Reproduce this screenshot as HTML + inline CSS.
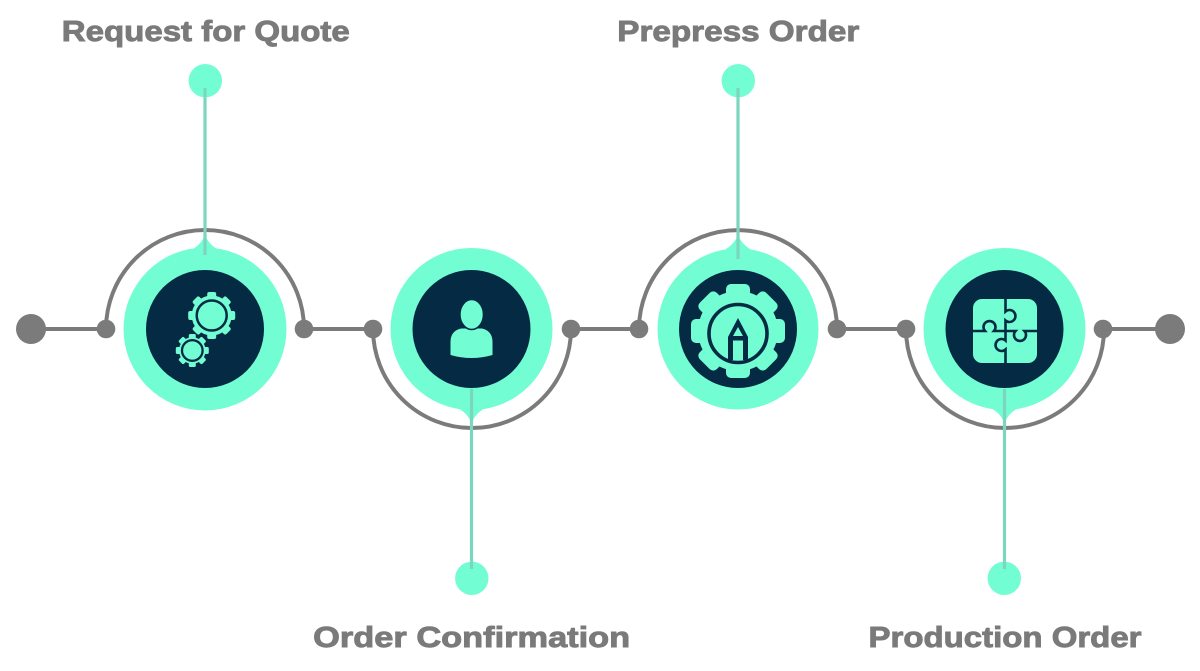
<!DOCTYPE html>
<html>
<head>
<meta charset="utf-8">
<style>
  html,body{margin:0;padding:0;background:#ffffff;}
  svg{display:block;}
  .lbl{font-family:"Liberation Sans",Arial,sans-serif;font-weight:bold;font-size:29px;fill:#7a7a7a;stroke:#7a7a7a;stroke-width:0.9;}
</style>
</head>
<body>
<svg width="1200" height="671" viewBox="0 0 1200 671" xmlns="http://www.w3.org/2000/svg">
  <!-- labels -->
  <text class="lbl" x="205.8" y="41" text-anchor="middle" textLength="288" lengthAdjust="spacingAndGlyphs">Request for Quote</text>
  <text class="lbl" x="738.3" y="41" text-anchor="middle" textLength="242" lengthAdjust="spacingAndGlyphs">Prepress Order</text>
  <text class="lbl" x="471.7" y="647" text-anchor="middle" textLength="317" lengthAdjust="spacingAndGlyphs">Order Confirmation</text>
  <text class="lbl" x="1005" y="647" text-anchor="middle" textLength="273" lengthAdjust="spacingAndGlyphs">Production Order</text>

  <!-- gray connectors -->
  <g stroke="#7b7b7b" stroke-width="4" fill="none">
    <line x1="31" y1="329" x2="106" y2="329"/>
    <line x1="304" y1="329" x2="373" y2="329"/>
    <line x1="571" y1="329" x2="639" y2="329"/>
    <line x1="837" y1="329" x2="906" y2="329"/>
    <line x1="1103" y1="329" x2="1170" y2="329"/>
    <path d="M106,329 A99,99 0 0 1 304,329"/>
    <path d="M373,329 A99,99 0 0 0 571,329"/>
    <path d="M639,329 A99,99 0 0 1 837,329"/>
    <path d="M906,329 A99,99 0 0 0 1104,329"/>
  </g>
  <g fill="#7b7b7b">
    <circle cx="31" cy="329" r="15"/>
    <circle cx="1170" cy="329" r="15"/>
    <circle cx="106" cy="329" r="9.3"/>
    <circle cx="304" cy="329" r="9.3"/>
    <circle cx="373" cy="329" r="9.3"/>
    <circle cx="571" cy="329" r="9.3"/>
    <circle cx="639" cy="329" r="9.3"/>
    <circle cx="837" cy="329" r="9.3"/>
    <circle cx="906" cy="329" r="9.3"/>
    <circle cx="1103" cy="329" r="9.3"/>
  </g>

  <!-- mint discs with teardrop points -->
  <g fill="#73fdd3">
    <circle cx="205" cy="329" r="81.5"/>
    <path d="M187,252 Q200,247 205,235 Q210,247 223,252 Z"/>
    <circle cx="471.5" cy="329" r="81"/>
    <path d="M453.5,406 Q466.5,411 471.5,423 Q476.5,411 489.5,406 Z"/>
    <circle cx="738" cy="329" r="80.5"/>
    <path d="M720,252 Q733,247 738,235 Q743,247 756,252 Z"/>
    <circle cx="1004.5" cy="329" r="81"/>
    <path d="M986.5,406 Q999.5,411 1004.5,423 Q1009.5,411 1022.5,406 Z"/>
  </g>

  <!-- dark inner discs -->
  <g fill="#052a44">
    <circle cx="205" cy="329" r="59"/>
    <circle cx="471.5" cy="329" r="59"/>
    <circle cx="738" cy="329" r="59"/>
    <circle cx="1004.5" cy="329" r="59"/>
  </g>

  <!-- leader lines and mint dots -->
  <g stroke="#7cd5bd" stroke-width="3.2">
    <line x1="205" y1="82" x2="205" y2="255"/>
    <line x1="738" y1="82" x2="738" y2="259"/>
    <line x1="471.5" y1="389" x2="471.5" y2="576"/>
    <line x1="1004.5" y1="389" x2="1004.5" y2="576"/>
  </g>
  <g fill="#73fdd3">
    <circle cx="205.3" cy="80.7" r="16.7"/>
    <circle cx="738.3" cy="80.7" r="16.7"/>
    <circle cx="471.8" cy="578.3" r="16.7"/>
    <circle cx="1004.3" cy="578.3" r="16.7"/>
  </g>
  <g stroke="#7cd5bd" stroke-width="3.2">
    <line x1="205" y1="88" x2="205" y2="97"/>
    <line x1="738" y1="88" x2="738" y2="97"/>
    <line x1="471.5" y1="562" x2="471.5" y2="569"/>
    <line x1="1004.5" y1="562" x2="1004.5" y2="569"/>
  </g>

  <!-- Icon 1: gears -->
  <g>
    <g fill="#73fdd3" transform="translate(211.7,315.5)">
      <circle r="20"/>
      <g>
        <rect x="-4.5" y="-23.5" width="9" height="8" rx="2"/>
        <rect x="-4.5" y="-23.5" width="9" height="8" rx="2" transform="rotate(45)"/>
        <rect x="-4.5" y="-23.5" width="9" height="8" rx="2" transform="rotate(90)"/>
        <rect x="-4.5" y="-23.5" width="9" height="8" rx="2" transform="rotate(135)"/>
        <rect x="-4.5" y="-23.5" width="9" height="8" rx="2" transform="rotate(180)"/>
        <rect x="-4.5" y="-23.5" width="9" height="8" rx="2" transform="rotate(225)"/>
        <rect x="-4.5" y="-23.5" width="9" height="8" rx="2" transform="rotate(270)"/>
        <rect x="-4.5" y="-23.5" width="9" height="8" rx="2" transform="rotate(315)"/>
      </g>
      <circle r="15" fill="#73fdd3" stroke="#052a44" stroke-width="2.5"/>
    </g>
    <g transform="translate(192.3,350.5)">
      <circle r="15.5" fill="#052a44"/>
      <g fill="#73fdd3">
        <circle r="13.3"/>
        <rect x="-3.5" y="-16.5" width="7" height="6" rx="1.5"/>
        <rect x="-3.5" y="-16.5" width="7" height="6" rx="1.5" transform="rotate(45)"/>
        <rect x="-3.5" y="-16.5" width="7" height="6" rx="1.5" transform="rotate(90)"/>
        <rect x="-3.5" y="-16.5" width="7" height="6" rx="1.5" transform="rotate(135)"/>
        <rect x="-3.5" y="-16.5" width="7" height="6" rx="1.5" transform="rotate(180)"/>
        <rect x="-3.5" y="-16.5" width="7" height="6" rx="1.5" transform="rotate(225)"/>
        <rect x="-3.5" y="-16.5" width="7" height="6" rx="1.5" transform="rotate(270)"/>
        <rect x="-3.5" y="-16.5" width="7" height="6" rx="1.5" transform="rotate(315)"/>
      </g>
      <circle r="10.3" fill="#73fdd3" stroke="#052a44" stroke-width="2.3"/>
    </g>
  </g>

  <!-- Icon 2: person -->
  <g fill="#73fdd3">
    <path d="M450.5,355 V342 Q450.5,331 461,328.5 L482,328.5 Q492.5,331 492.5,342 V355 Q471.5,361 450.5,355 Z"/>
    <ellipse cx="471.7" cy="314.5" rx="11.8" ry="15" stroke="#052a44" stroke-width="1.6"/>
  </g>

  <!-- Icon 3: gear with pencil -->
  <g transform="translate(738,331)">
    <g fill="#73fdd3">
      <circle r="40"/>
      <rect x="-12" y="-47" width="24" height="14" rx="5"/>
      <rect x="-12" y="-47" width="24" height="14" rx="5" transform="rotate(45)"/>
      <rect x="-12" y="-47" width="24" height="14" rx="5" transform="rotate(90)"/>
      <rect x="-12" y="-47" width="24" height="14" rx="5" transform="rotate(135)"/>
      <rect x="-12" y="-47" width="24" height="14" rx="5" transform="rotate(180)"/>
      <rect x="-12" y="-47" width="24" height="14" rx="5" transform="rotate(225)"/>
      <rect x="-12" y="-47" width="24" height="14" rx="5" transform="rotate(270)"/>
      <rect x="-12" y="-47" width="24" height="14" rx="5" transform="rotate(315)"/>
    </g>
    <circle cx="0" cy="2.5" r="29" fill="#73fdd3" stroke="#052a44" stroke-width="3.6"/>
    <path d="M0,-13 L10,6 L10,29 L-10,29 L-10,6 Z" fill="#052a44"/>
    <path d="M0,-4 L5,5 L-5,5 Z" fill="#73fdd3"/>
    <rect x="-5" y="9.5" width="10" height="20" fill="#73fdd3"/>
  </g>

  <!-- Icon 4: puzzle -->
  <g>
    <rect x="973" y="299" width="64" height="64" rx="9" fill="#73fdd3"/>
    <g fill="none" stroke="#052a44" stroke-width="2.6">
      <path d="M1005.5,299 V311.5 A6,6 0 1 1 1005.5,320.5 V331"/>
      <path d="M973,331 H985 A6,6 0 1 1 994,331 H1005.5"/>
      <path d="M1005.5,331 H1015.5 A6,6 0 1 0 1024.5,331 H1037"/>
      <path d="M1005.5,331 V340.5 A6,6 0 1 0 1005.5,349.5 V363"/>
    </g>
  </g>
</svg>
</body>
</html>
